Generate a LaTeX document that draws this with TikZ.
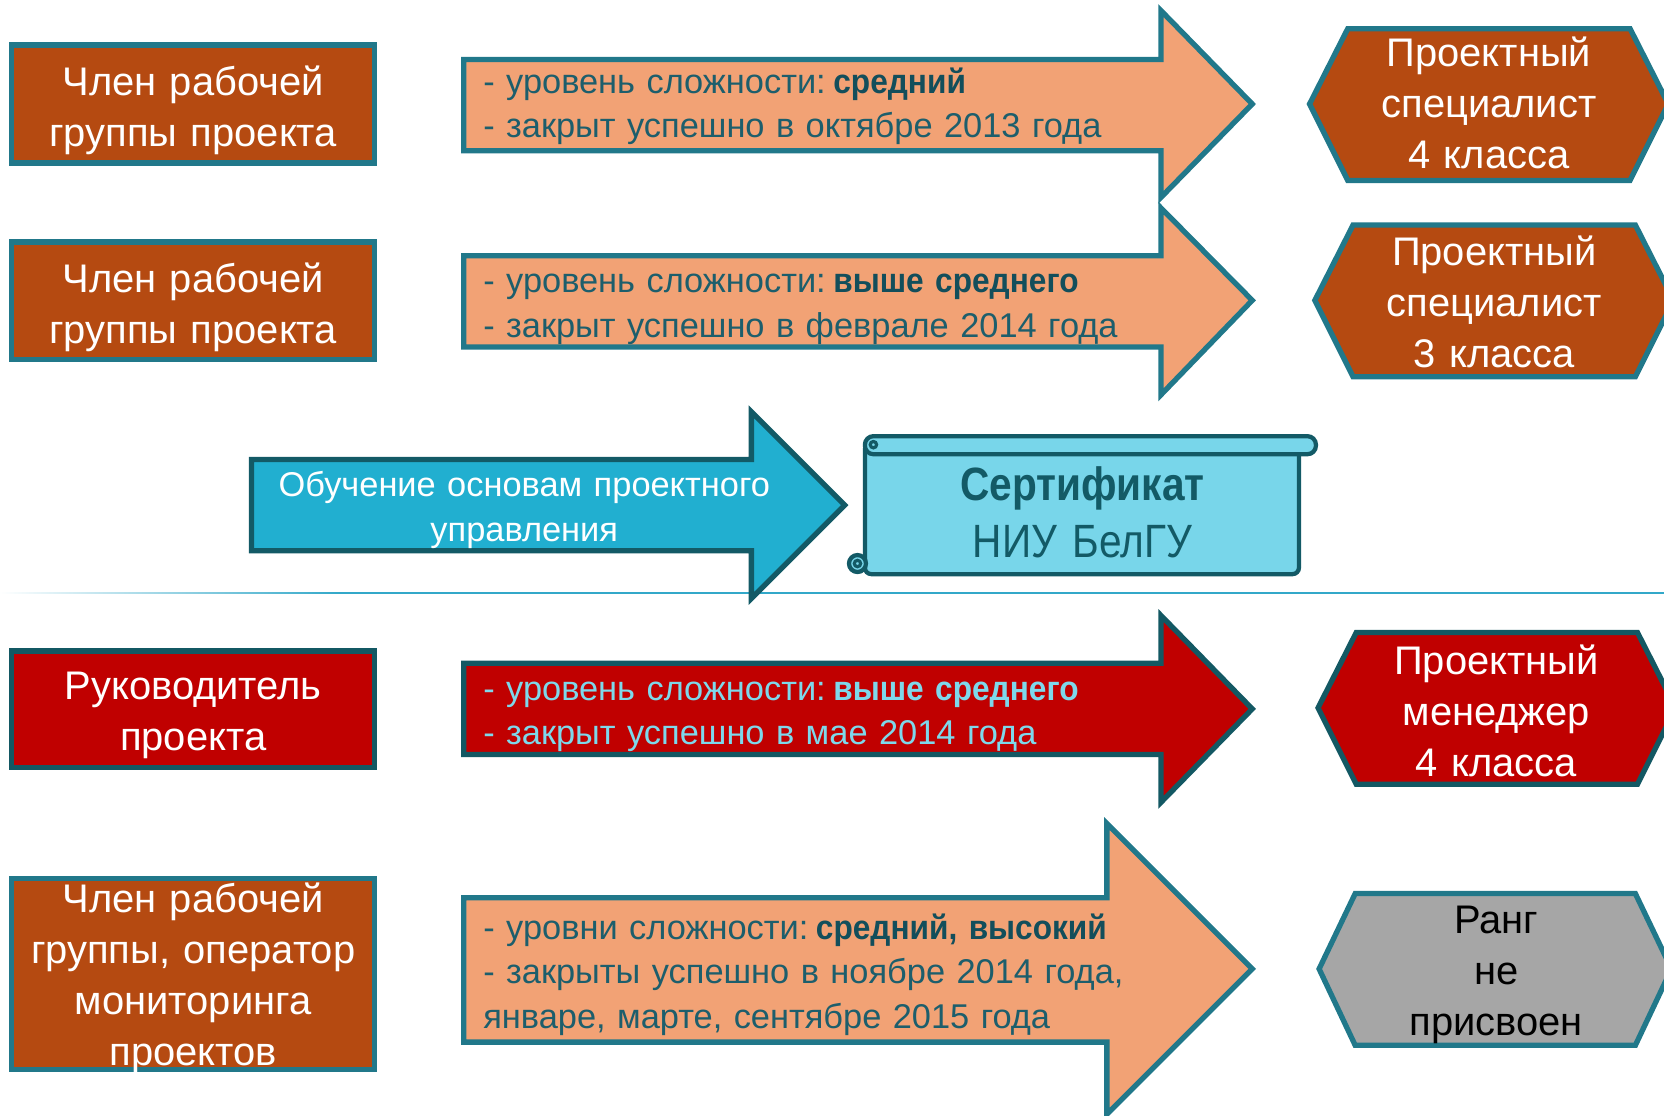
\documentclass[tikz,border=0pt]{standalone}
\usepackage{fontspec}
\setmainfont{Liberation Sans}
\usetikzlibrary{fadings}
\definecolor{brownf}{HTML}{B54A11}
\definecolor{tealb}{HTML}{21788A}
\definecolor{salmon}{HTML}{F2A275}
\definecolor{darktxt}{HTML}{1D5E6C}
\definecolor{boldtxt}{HTML}{134E5B}
\definecolor{redf}{HTML}{C00000}
\definecolor{redborder}{HTML}{135863}
\definecolor{cyantxt}{HTML}{7ED8EB}
\definecolor{bluef}{HTML}{21AFD0}
\definecolor{blueborder}{HTML}{135A66}
\definecolor{scrollf}{HTML}{78D6EA}
\definecolor{grayf}{HTML}{A6A6A6}
\definecolor{linec}{HTML}{32A8C9}
\tikzset{
  rolebox/.style={draw=tealb, line width=2.5pt, fill=brownf, inner sep=0pt,
    minimum width=171pt},
  redbox/.style={rolebox, draw=redborder, fill=redf},
  roletext/.style={text=white, align=center, text width=190pt, inner sep=0pt,
    font=\fontsize{18.8}{24}\selectfont, anchor=base},
  hexshape/.style={draw=tealb, line width=2.5pt, fill=brownf, line join=miter},
  arrowshape/.style={draw=tealb, line width=2.5pt, fill=salmon, line join=miter},
  arrowtext/.style={text=darktxt, align=left, text width=330pt, inner sep=0pt,
    font=\fontsize{16.2}{21}\selectfont, anchor=base west}
}
\newcommand{\bt}[1]{\hspace{0.22em}{\addfontfeature{FakeStretch=0.92}\bfseries\color{boldtxt}#1}}
\newcommand{\ct}[1]{\hspace{0.22em}{\addfontfeature{FakeStretch=0.92}\bfseries\color{cyantxt}#1}}
\begin{document}
\begin{tikzpicture}[x=0.5pt,y=-0.5pt]
\useasboundingbox (0,0) rectangle (1568,1051);
\clip (0,0) rectangle (1568,1051);

% separator line
\fill[linec, path fading=west] (0,557.8) rectangle (320,559.8);
\fill[linec] (320,557.8) rectangle (1568,559.8);

% left boxes
\node[rolebox, minimum height=55.5pt] (b1) at (182,98) {};
\node[roletext] (t1) at (182,90) {Член рабочей\\группы проекта};
\node[rolebox, minimum height=55.5pt] (b2) at (182,283.5) {};
\node[roletext] (t2) at (182,276) {Член рабочей\\группы проекта};
\node[redbox, minimum height=55pt] (b3) at (182,668.5) {};
\node[roletext] (t3) at (182,659) {Руководитель\\проекта};
\node[rolebox, minimum height=90pt] (b4) at (182,917.5) {};
\node[roletext] (t4) at (182,860) {Член рабочей\\группы, оператор\\мониторинга\\проектов};

% arrows
\draw[arrowshape] (437,56) -- (1094,56) -- (1094,10) -- (1180,98) -- (1094,186) -- (1094,142) -- (437,142) -- cycle;
\node[arrowtext] (a1) at (455,88) {- уровень сложности:\bt{средний}\\- закрыт успешно в октябре 2013 года};

\draw[arrowshape] (437,241) -- (1094,241) -- (1094,196) -- (1180,283) -- (1094,372) -- (1094,327) -- (437,327) -- cycle;
\node[arrowtext] (a2) at (455,276) {- уровень сложности:\bt{выше среднего}\\- закрыт успешно в феврале 2014 года};

\draw[arrowshape, draw=blueborder, fill=bluef] (237,433) -- (708,433) -- (708,388) -- (796,476) -- (708,564) -- (708,519) -- (237,519) -- cycle;
\node[arrowtext, anchor=base, align=center, text=white, text width=280pt] (a3) at (494,468) {Обучение основам проектного\\управления};

\draw[arrowshape, draw=redborder, fill=redf] (437,625) -- (1094,625) -- (1094,580) -- (1180,668) -- (1094,756) -- (1094,711) -- (437,711) -- cycle;
\node[arrowtext, text=cyantxt] (a4) at (455,660) {- уровень сложности:\ct{выше среднего}\\- закрыт успешно в мае 2014 года};

\draw[arrowshape] (437,846) -- (1043,846) -- (1043,776) -- (1180,913) -- (1043,1050) -- (1043,982) -- (437,982) -- cycle;
\node[arrowtext] (a5) at (455,885) {- уровни сложности:\bt{средний, высокий}\\- закрыты успешно в ноябре 2014 года,\\январе, марте, сентябре 2015 года};

% certificate scroll
\draw[draw=blueborder, fill=scrollf, line width=2pt, rounded corners=3pt]
  (815,422) -- (815,541) -- (1224,541) -- (1224,422);
\draw[draw=blueborder, fill=scrollf, line width=2pt, rounded corners=4pt]
  (815,411) rectangle (1240,428);
\draw[draw=blueborder, fill=scrollf, line width=2pt] (808,531) circle (8);
\draw[draw=blueborder, line width=1.5pt] (808,531) circle (3);
\draw[draw=blueborder, line width=1.5pt] (823,419) circle (3);
\node[align=center, text=blueborder, inner sep=0pt, anchor=base, text width=200pt,
  font=\fontsize{22}{26.5}\selectfont\addfontfeature{FakeStretch=0.87}] (cert) at (1020,472) {\textbf{Сертификат}\\НИУ БелГУ};

% hexagons
\draw[hexshape] (1234,98) -- (1270,27) -- (1536,27) -- (1572,98) -- (1536,170) -- (1270,170) -- cycle;
\node[roletext] (h1) at (1403,63) {Проектный\\специалист\\4 класса};

\draw[hexshape] (1239,283) -- (1275,212) -- (1541,212) -- (1577,283) -- (1541,355) -- (1275,355) -- cycle;
\node[roletext] (h2) at (1408,250) {Проектный\\специалист\\3 класса};

\draw[hexshape, draw=redborder, fill=redf] (1242,667) -- (1278,596) -- (1543,596) -- (1579,667) -- (1543,739) -- (1278,739) -- cycle;
\node[roletext] (h3) at (1410,636) {Проектный\\менеджер\\4 класса};

\draw[hexshape, fill=grayf] (1243,913) -- (1277,842) -- (1541,842) -- (1575,913) -- (1541,985) -- (1277,985) -- cycle;
\node[roletext, text=black] (h4) at (1410,880) {Ранг\\не\\присвоен};
\end{tikzpicture}
\end{document}
